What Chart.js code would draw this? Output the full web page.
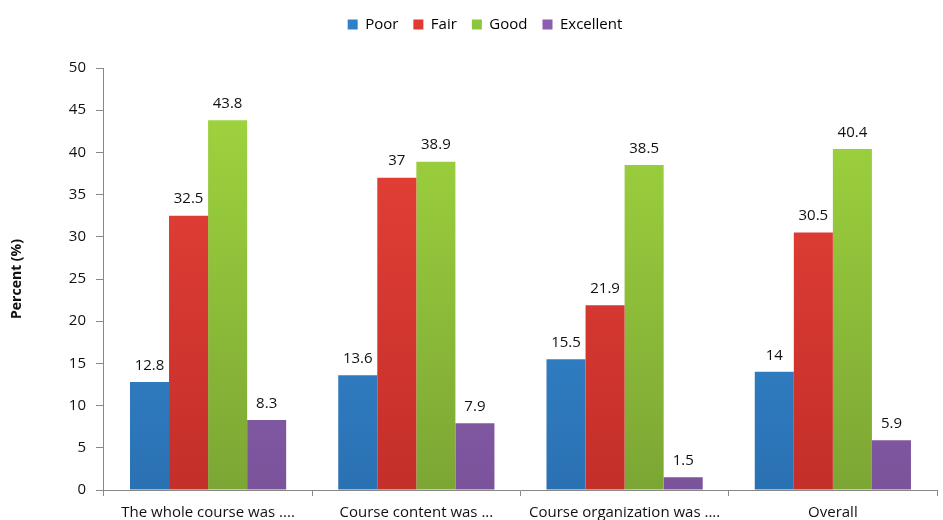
<!DOCTYPE html>
<html>
<head>
<meta charset="utf-8">
<script src="https://cdn.jsdelivr.net/npm/chart.js@4/dist/chart.umd.min.js"></script>
<style>
  html, body { margin: 0; padding: 0; background: #fff; }
  #wrap { width: 943px; height: 520px; }
</style>
</head>
<body>
<div id="wrap"><canvas id="grafico"></canvas></div>
<script>
  const categorias = ['The whole course was ....', 'Course content was ...', 'Course organization was ....', 'Overall'];
  const poor = [12.8, 13.6, 15.5, 14];
  const fair = [32.5, 37, 21.9, 30.5];
  const good = [43.8, 38.9, 38.5, 40.4];
  const excellent = [8.3, 7.9, 1.5, 5.9];
  const yTicks = [0, 5, 10, 15, 20, 25, 30, 35, 40, 45, 50];

  const fonte = '"Open Sans", Lato, sans-serif';

  // top / bottom colours of each series
  const cores = {
    Poor: ['#3b93dc', '#2a71b3', '#2f80c9'],
    Fair: ['#ea4339', '#c32f29', '#e03a33'],
    Good: ['#a2d83f', '#7ca634', '#8cc63e'],
    Excellent: ['#9e6fc4', '#7a539b', '#8a5fb0']
  };

  function gradiente(nome) {
    return function (context) {
      const area = context.chart.chartArea;
      if (!area) return cores[nome][2];
      const g = context.chart.ctx.createLinearGradient(0, area.top, 0, area.bottom);
      g.addColorStop(0, cores[nome][0]);
      g.addColorStop(1, cores[nome][1]);
      return g;
    };
  }

  const rotulos = {
    id: 'rotulos',
    afterDatasetsDraw(chart) {
      const ctx = chart.ctx;
      ctx.save();
      ctx.font = '15px ' + fonte;
      ctx.fillStyle = '#111';
      ctx.textAlign = 'center';
      ctx.textBaseline = 'bottom';
      chart.data.datasets.forEach((ds, i) => {
        chart.getDatasetMeta(i).data.forEach((bar, j) => {
          ctx.fillText(String(ds.data[j]), bar.x, bar.y - 9);
        });
      });
      ctx.restore();
    }
  };

  // extra room under the legend, and legend nudged right
  const espacoLegenda = {
    id: 'espacoLegenda',
    beforeInit(chart) {
      const fitOriginal = chart.legend.fit;
      chart.legend.fit = function () {
        fitOriginal.bind(chart.legend)();
        this.height += 26;
      };
    },
    afterLayout(chart) {
      chart.legend.left += 14;
      chart.legend.right += 14;
    }
  };

  const serie = (nome, dados) => ({
    label: nome,
    data: dados,
    backgroundColor: gradiente(nome),
    borderWidth: 0
  });

  const ctx = document.getElementById('grafico').getContext('2d');

  const grafico = new Chart(ctx, {
    type: 'bar',
    data: {
      labels: categorias,
      datasets: [
        serie('Poor', poor),
        serie('Fair', fair),
        serie('Good', good),
        serie('Excellent', excellent)
      ]
    },
    options: {
      responsive: true,
      maintainAspectRatio: false,
      animation: false,
      layout: { padding: { top: 2, right: 6, left: 5, bottom: -10 } },
      datasets: {
        bar: { categoryPercentage: 0.75, barPercentage: 1.0 }
      },
      plugins: {
        legend: {
          position: 'top',
          labels: {
            boxWidth: 10,
            boxHeight: 10,
            padding: 15,
            color: '#111',
            font: { family: fonte, size: 15 },
            generateLabels(chart) {
              return chart.data.datasets.map((ds, i) => ({
                text: ds.label,
                fillStyle: cores[ds.label][2],
                strokeStyle: cores[ds.label][2],
                lineWidth: 0,
                datasetIndex: i
              }));
            }
          }
        },
        tooltip: { enabled: false }
      },
      scales: {
        x: {
          grid: {
            display: true,
            drawOnChartArea: false,
            drawTicks: true,
            tickLength: 6,
            offset: true,
            color: '#888'
          },
          border: { color: '#888', width: 1 },
          ticks: {
            color: '#111',
            padding: 8,
            maxRotation: 0,
            autoSkip: false,
            font: { family: fonte, size: 15 }
          }
        },
        y: {
          min: 0,
          max: 50,
          afterBuildTicks(axis) {
            axis.ticks = yTicks.map(v => ({ value: v }));
          },
          grid: {
            display: true,
            drawOnChartArea: false,
            drawTicks: true,
            tickLength: 8,
            color: '#888'
          },
          border: { color: '#888', width: 1 },
          ticks: {
            color: '#111',
            padding: 10,
            font: { family: fonte, size: 15 }
          },
          title: {
            display: true,
            text: 'Percent (%)',
            color: '#111',
            padding: { bottom: 33 },
            font: { family: fonte, size: 14, weight: 'bold' }
          }
        }
      }
    },
    plugins: [rotulos, espacoLegenda]
  });
</script>
</body>
</html>
